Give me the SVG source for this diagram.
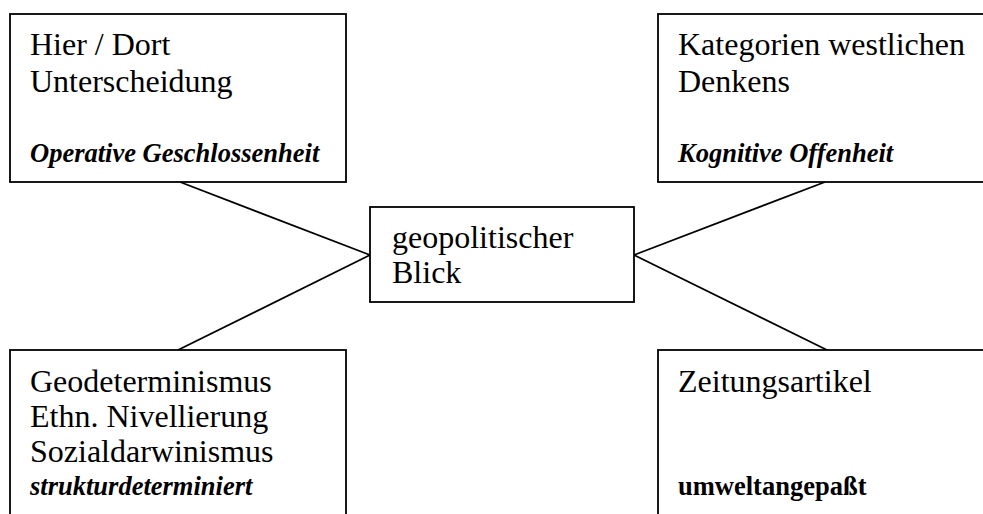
<svg xmlns="http://www.w3.org/2000/svg" width="983" height="514" viewBox="0 0 983 514">
<style>
.box{fill:#fff;stroke:#000;stroke-width:1.8}
text{font-family:"Liberation Serif","Times New Roman",serif;fill:#000}
.t{font-size:32px}
.bi{font-size:26.5px;font-weight:bold;font-style:italic}
.b{font-size:26.5px;font-weight:bold}
.c{stroke:#000;stroke-width:1.8;fill:none}
</style>
<rect width="983" height="514" fill="#fff"/>
<g id="connectors">
<line class="c" x1="180" y1="182" x2="370" y2="255"/>
<line class="c" x1="178" y1="350" x2="370" y2="255"/>
<line class="c" x1="825" y1="182" x2="634" y2="255"/>
<line class="c" x1="827" y1="350" x2="634" y2="255"/>
</g>
<g id="n-hierdort">
<rect class="box" x="10" y="14" width="336" height="168"/>
<text class="t" x="30" y="55">Hier / Dort</text>
<text class="t" x="30" y="92">Unterscheidung</text>
<text class="bi" x="30" y="162">Operative Geschlossenheit</text>
</g>
<g id="n-kategorien">
<rect class="box" x="658" y="14" width="340" height="168"/>
<text class="t" x="678" y="55">Kategorien westlichen</text>
<text class="t" x="678" y="92">Denkens</text>
<text class="bi" x="678" y="162">Kognitive Offenheit</text>
</g>
<g id="n-blick">
<rect class="box" x="370" y="207" width="264" height="95"/>
<text class="t" x="392" y="248">geopolitischer</text>
<text class="t" x="392" y="283">Blick</text>
</g>
<g id="n-geodeterminismus">
<rect class="box" x="10" y="350" width="336" height="180"/>
<text class="t" x="30" y="392">Geodeterminismus</text>
<text class="t" x="30" y="427">Ethn. Nivellierung</text>
<text class="t" x="30" y="462">Sozialdarwinismus</text>
<text class="bi" x="30" y="495">strukturdeterminiert</text>
</g>
<g id="n-zeitungsartikel">
<rect class="box" x="658" y="350" width="340" height="180"/>
<text class="t" x="678" y="392">Zeitungsartikel</text>
<text class="b" x="678" y="495">umweltangepaßt</text>
</g>
</svg>
